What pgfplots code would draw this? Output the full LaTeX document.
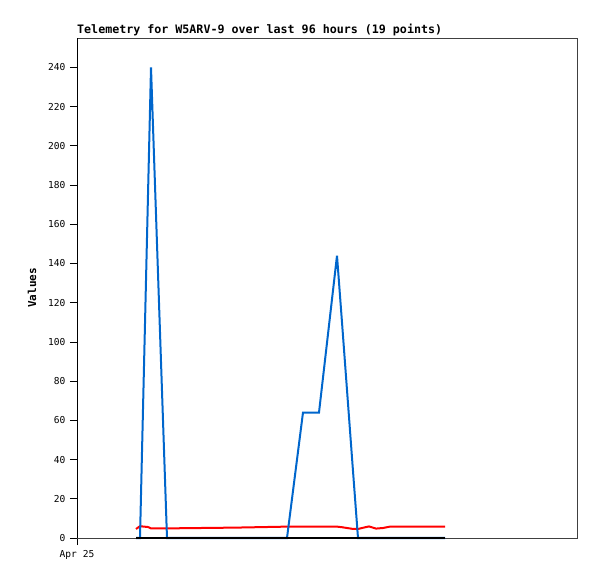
\documentclass[border=0pt]{standalone}
\usepackage{fontspec}
\setmainfont{Liberation Sans}
\setmonofont{DejaVu Sans Mono}
\usepackage{pgfplots}
\pgfplotsset{compat=1.18}
\definecolor{tblue}{HTML}{0066CC}
\definecolor{tred}{HTML}{FF0000}
\definecolor{frame}{HTML}{404040}
\begin{document}
\begin{tikzpicture}
\useasboundingbox (0,0) rectangle (597bp,579bp);
\begin{axis}[
  at={(77bp,41bp)}, anchor=south west,
  width=500bp, height=500bp, scale only axis,
  xmin=77, xmax=577, ymin=0, ymax=255,
  clip=false,
  axis line style={draw=frame, line width=0.8bp},
  tick pos=left, tick align=outside,
  major tick length=7bp,
  tick style={black, line width=0.8bp},
  xtick={77}, xticklabels={Apr 25},
  ytick={0,20,...,240},
  /pgf/number format/assume math mode=true,
  tick label style={font=\ttfamily\fontsize{9.6}{10}\selectfont},
  yticklabel style={xshift=-1bp},
  xticklabel style={yshift=-2bp},
  title={Telemetry for W5ARV-9 over last 96 hours (19 points)},
  title style={at={(0,1)}, anchor=south west, inner xsep=0pt, yshift=-7bp,
    font=\ttfamily\bfseries\fontsize{11.7}{12}\selectfont},
  ylabel={Values},
  ylabel style={at={(axis description cs:-0.09,0.5)}, anchor=center,
    font=\ttfamily\bfseries\fontsize{11}{12}\selectfont},
]
\draw[black, line width=0.8bp] (rel axis cs:0,0) -- (rel axis cs:0,1);
\addplot[tred, line width=2bp] coordinates {
(136,4.6) (140,6.0) (148,5.6) (151,4.9) (167,4.9) (236,5.3) (287,5.8)
(303,5.8) (319,5.8) (337,5.8) (342,5.5) (352,4.7) (358,4.6) (362,5.1)
(369,5.9) (376,4.8) (383,5.1) (390,5.8) (445,5.8)};
\addplot[tblue, line width=2bp] coordinates {
(136,0) (140,0) (148,175) (151,240) (167,0) (236,0) (287,0)
(303,64) (319,64) (337,144) (342,110) (352,41) (358,0) (362,0)
(369,0) (376,0) (383,0) (390,0) (445,0)};
\addplot[black, line width=2bp] coordinates {
(136,0) (140,0) (148,0) (151,0) (167,0) (236,0) (287,0)
(303,0) (319,0) (337,0) (342,0) (352,0) (358,0) (362,0)
(369,0) (376,0) (383,0) (390,0) (445,0)};
\end{axis}
\end{tikzpicture}
\end{document}
